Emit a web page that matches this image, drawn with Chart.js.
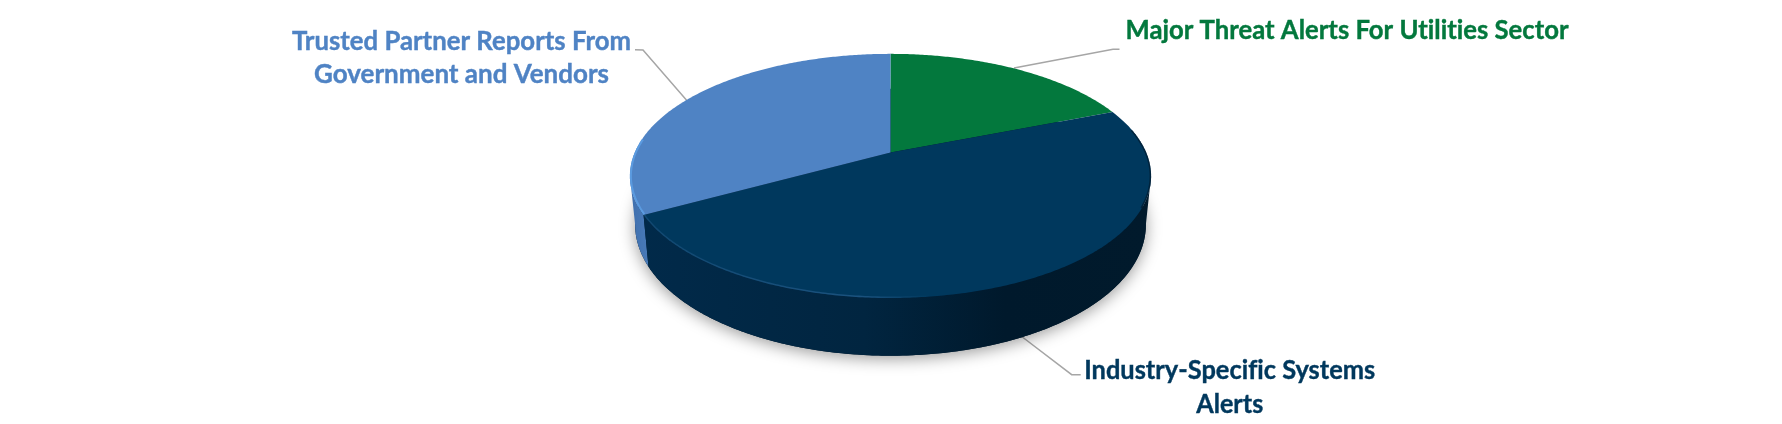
<!DOCTYPE html>
<html>
<head>
<meta charset="utf-8">
<style>
  html, body { margin: 0; padding: 0; background: #fff; }
  canvas { display: block; }
</style>
<script src="https://cdn.jsdelivr.net/npm/chart.js@4"></script>
</head>
<body>
<canvas id="pieChart" width="1782" height="424"></canvas>
<script>
// Chart data
const categories = [
    'Major Threat Alerts For Utilities Sector',
    'Industry-Specific Systems Alerts',
    'Trusted Partner Reports From Government and Vendors'
];
const shares = [19, 48, 33];
const sliceColors = ['#03783d', '#00385d', '#4f83c4'];
const labelLines = [
    ['Major Threat Alerts For Utilities Sector'],
    ['Industry-Specific Systems', 'Alerts'],
    ['Trusted Partner Reports From', 'Government and Vendors']
];

// Label placement: centre x, first baseline, line width of each line
const labelBoxes = [
    { x: 1347, y: 38.5, widths: [443] },
    { x: 1229.7, y: 379.3, widths: [291, 67] },
    { x: 461.5, y: 50, widths: [339, 295] }
];
const leaderLines = [
    [[1119.5, 49.3], [1113, 49.3], [1014, 68]],
    [[1080.7, 374.7], [1071.7, 374.7], [1021, 336]],
    [[635, 49.7], [643, 50], [689, 103]]
];

// Perspective of the tilted disc, relative to the pie radius
const TILT_C = -0.192;
const TILT_A = 0.579;
const WIDTH_K = 1.677;
// Angles where the wall turns away from the viewer
const SIDE_FROM = Math.asin(-TILT_C);
const SIDE_TO = Math.PI - SIDE_FROM;

function projectPoint(arc, angle, lower) {
    const u = Math.cos(angle), v = Math.sin(angle);
    const w = 1 + TILT_C * v;
    const R = arc.outerRadius;
    let x = arc.x + WIDTH_K * R * u / w;
    let y = (arc.y + TILT_A * R * v) / w;
    if (lower) {
        x = arc.x + (x - arc.x) * 0.98;
        y += R * (0.3036 + 0.0748 * v);
    }
    return [x, y];
}

function tracePoints(ctx, arc, from, to, lower, first) {
    const steps = Math.max(2, Math.ceil(Math.abs(to - from) / 0.01));
    for (let i = 0; i <= steps; i++) {
        const p = projectPoint(arc, from + (to - from) * i / steps, lower);
        if (i === 0 && first) ctx.moveTo(p[0], p[1]);
        else ctx.lineTo(p[0], p[1]);
    }
}

function topFace(ctx, arc) {
    ctx.beginPath();
    ctx.moveTo(arc.x, arc.y);
    tracePoints(ctx, arc, arc.startAngle, arc.endAngle, false, false);
    ctx.closePath();
}

function sideFill(ctx, index, arc) {
    const g = ctx.createLinearGradient(arc.x - 260, 0, arc.x + 260, 0);
    if (index === 1) {
        g.addColorStop(0, '#012a4a');
        g.addColorStop(0.45, '#012540');
        g.addColorStop(0.72, '#00192c');
        g.addColorStop(1, '#011a2c');
    } else {
        g.addColorStop(0, '#3f6fae');
        g.addColorStop(0.04, '#4a7cb9');
        g.addColorStop(1, '#4a7cb9');
    }
    return g;
}

const pie3d = {
    id: 'pie3d',
    beforeDatasetsDraw(chart) {
        const ctx = chart.ctx;
        const arcs = chart.getDatasetMeta(0).data;
        const anyArc = arcs[0];

        // Leader lines sit under the disc
        ctx.save();
        ctx.strokeStyle = '#a6a6a6';
        ctx.lineWidth = 1.5;
        leaderLines.forEach(line => {
            ctx.beginPath();
            line.forEach((p, i) => i ? ctx.lineTo(p[0], p[1]) : ctx.moveTo(p[0], p[1]));
            ctx.stroke();
        });
        ctx.restore();

        // Soft shadow under the base
        ctx.save();
        ctx.shadowColor = 'rgba(0,0,0,0.4)';
        ctx.shadowBlur = 16;
        ctx.shadowOffsetY = 3;
        ctx.fillStyle = '#00192c';
        ctx.beginPath();
        tracePoints(ctx, anyArc, 0, Math.PI * 2, true, true);
        ctx.closePath();
        ctx.fill();
        ctx.restore();

        // Side walls, only the part facing the viewer
        [2, 1].forEach(i => {
            const arc = arcs[i];
            const from = Math.max(arc.startAngle, SIDE_FROM);
            const to = Math.min(arc.endAngle, SIDE_TO);
            ctx.fillStyle = sideFill(ctx, i, arc);
            ctx.beginPath();
            tracePoints(ctx, arc, from, to, false, true);
            tracePoints(ctx, arc, to, from, true, false);
            ctx.closePath();
            ctx.fill();
        });

        // Top faces
        arcs.forEach((arc, i) => {
            ctx.fillStyle = sliceColors[i];
            topFace(ctx, arc);
            ctx.fill();
        });

        // Bevel highlights on the rim, clipped to the face
        const navy = arcs[1], blue = arcs[2];
        ctx.save();
        topFace(ctx, navy);
        ctx.clip();
        const navyBevel = ctx.createLinearGradient(navy.x - 245, 0, navy.x + 40, 0);
        navyBevel.addColorStop(0, 'rgba(30,85,130,0.55)');
        navyBevel.addColorStop(0.75, 'rgba(30,85,130,0.9)');
        navyBevel.addColorStop(1, 'rgba(30,85,130,0)');
        ctx.strokeStyle = navyBevel;
        ctx.lineWidth = 3;
        ctx.beginPath();
        tracePoints(ctx, navy, navy.startAngle + 1.4, navy.endAngle, false, true);
        ctx.stroke();
        ctx.strokeStyle = 'rgba(0,22,38,0.6)';
        ctx.lineWidth = 3;
        ctx.beginPath();
        tracePoints(ctx, navy, -0.2, 0.45, false, true);
        ctx.stroke();
        ctx.restore();

        ctx.save();
        topFace(ctx, blue);
        ctx.clip();
        ctx.strokeStyle = '#5b9be0';
        ctx.lineWidth = 4;
        ctx.beginPath();
        tracePoints(ctx, blue, blue.startAngle, blue.startAngle + 0.62, false, true);
        ctx.stroke();
        ctx.restore();

        // Category labels
        ctx.textAlign = 'center';
        ctx.textBaseline = 'alphabetic';
        ctx.font = 'bold 26px Lato, "Noto Sans", sans-serif';
        ctx.letterSpacing = '0.01px';
        ctx.lineWidth = 0.4;
        labelLines.forEach((lines, i) => {
            ctx.fillStyle = sliceColors[i];
            ctx.strokeStyle = sliceColors[i];
            lines.forEach((text, n) => {
                const box = labelBoxes[i];
                const y = box.y + n * 33.4;
                ctx.fillText(text, box.x, y, box.widths[n]);
                ctx.strokeText(text, box.x, y, box.widths[n]);
            });
        });
        return false;
    }
};

new Chart(document.getElementById('pieChart'), {
    type: 'pie',
    data: {
        labels: categories,
        datasets: [{
            data: shares,
            backgroundColor: sliceColors,
            borderWidth: 0
        }]
    },
    options: {
        responsive: false,
        animation: false,
        layout: { padding: { right: 1, bottom: 119 } },
        plugins: {
            legend: { display: false },
            tooltip: { enabled: false }
        }
    },
    plugins: [pie3d]
});
</script>
</body>
</html>
